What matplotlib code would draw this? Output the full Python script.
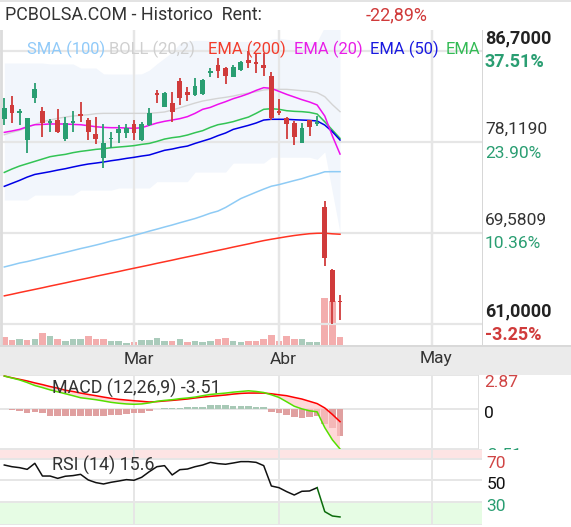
import matplotlib
matplotlib.use('Agg')
import numpy as np
import matplotlib.pyplot as plt
from matplotlib.patches import Rectangle
from matplotlib.transforms import offset_copy

plt.rcParams['font.family'] = ['Roboto', 'DejaVu Sans']

# ---------------------------- data ----------------------------
opens = [80.27, 81.62, 80.88, 78.32, 82.24, 81.05, 79.95, 80.20, 78.38, 79.89,
         80.74, 80.20, 78.88, 76.66, 78.40, 78.95, 78.95, 79.83, 78.32, 79.73,
         82.65, 81.46, 81.83, 83.87, 82.87, 82.56, 82.65, 84.60, 85.38, 85.13,
         84.28, 84.91, 85.85, 85.60, 85.38, 84.35, 81.05, 80.42, 79.95, 78.07,
         80.20, 79.83, 72.01, 66.08, 63.15]
highs = [82.24, 82.46, 81.21, 80.40, 83.66, 81.46, 80.30, 81.21, 80.52, 81.05,
         81.93, 80.36, 80.52, 79.83, 79.10, 79.73, 79.83, 80.20, 80.04, 81.30,
         83.03, 82.87, 82.87, 84.13, 83.28, 84.13, 84.03, 85.07, 86.01, 85.16,
         85.38, 85.76, 86.70, 86.54, 86.48, 84.75, 82.15, 80.52, 80.14, 79.89,
         80.20, 80.58, 72.58, 66.17, 63.72]
lows = [79.73, 79.95, 79.73, 77.06, 81.77, 78.57, 79.10, 78.95, 78.26, 79.10,
        80.04, 78.32, 77.94, 75.65, 77.53, 78.07, 78.48, 78.32, 78.26, 79.64,
        81.83, 81.40, 80.04, 81.62, 82.02, 82.46, 82.56, 84.22, 84.13, 83.56,
        84.22, 84.85, 85.07, 84.60, 84.35, 80.20, 80.67, 78.38, 77.85, 78.01,
        78.70, 79.64, 66.46, 61.00, 61.37]
closes = [81.30, 80.83, 80.95, 80.36, 83.09, 79.95, 80.14, 79.10, 79.95, 80.11,
          80.61, 79.10, 78.38, 78.01, 78.45, 79.36, 79.42, 79.01, 79.83, 80.83,
          82.56, 82.78, 80.99, 82.24, 82.56, 83.40, 83.97, 84.82, 84.85, 84.35,
          85.22, 85.70, 85.54, 85.50, 85.07, 80.36, 80.83, 79.83, 78.63, 79.42,
          79.57, 79.95, 67.21, 63.07, 63.05]
# volume in thousands, 1 = green bar, 0 = red bar
volume_k = [80, 50, 60, 50, 60, 120, 90, 60, 40, 60,
            60, 90, 60, 60, 40, 40, 20, 30, 50, 50,
            73, 43, 43, 60, 33, 43, 33, 43, 60, 73,
            43, 33, 43, 43, 60, 103, 43, 93, 60, 60,
            33, 33, 473, 440, 83]
vol_up = [0, 0, 1, 0, 1, 0, 1, 0, 1, 1,
          1, 0, 0, 0, 1, 1, 1, 0, 1, 1,
          1, 1, 0, 1, 0, 1, 1, 1, 0, 0,
          1, 1, 0, 0, 0, 0, 0, 0, 0, 1,
          1, 1, 0, 0, 0]

sma100 = [66.37, 66.55, 66.74, 66.88, 67.05, 67.23, 67.40, 67.57, 67.74, 67.92,
          68.10, 68.26, 68.43, 68.61, 68.81, 68.97, 69.16, 69.34, 69.53, 69.74,
          69.93, 70.13, 70.32, 70.53, 70.73, 70.93, 71.17, 71.43, 71.63, 71.97,
          72.39, 72.81, 73.11, 73.41, 73.70, 73.97, 74.12, 74.31, 74.50, 74.68,
          74.91, 75.10, 75.33, 75.34, 75.34]
ema200 = [63.65, 63.80, 63.96, 64.11, 64.26, 64.41, 64.57, 64.72, 64.87, 65.03,
          65.18, 65.33, 65.49, 65.64, 65.79, 65.94, 66.10, 66.25, 66.40, 66.55,
          66.71, 66.86, 67.01, 67.17, 67.32, 67.47, 67.62, 67.78, 67.93, 68.08,
          68.24, 68.39, 68.54, 68.70, 68.85, 68.98, 69.10, 69.22, 69.33, 69.42,
          69.50, 69.54, 69.55, 69.49, 69.45]
ema20 = [79.04, 79.17, 79.32, 79.57, 79.76, 79.79, 79.83, 79.83, 79.83, 79.79,
         79.76, 79.67, 79.57, 79.51, 79.48, 79.48, 79.45, 79.42, 79.48, 79.70,
         79.92, 80.08, 80.20, 80.33, 80.52, 80.83, 81.21, 81.39, 81.68, 81.93,
         82.21, 82.43, 82.68, 82.99, 83.25, 83.18, 82.90, 82.62, 82.37, 82.12,
         81.90, 81.62, 80.58, 78.70, 77.00]
ema50 = [73.96, 74.24, 74.52, 74.83, 75.08, 75.21, 75.34, 75.49, 75.62, 75.78,
         75.93, 76.06, 76.15, 76.25, 76.37, 76.47, 76.59, 76.69, 76.81, 76.91,
         77.13, 77.35, 77.47, 77.63, 77.75, 78.00, 78.22, 78.44, 78.73, 78.98,
         79.32, 79.51, 79.70, 79.92, 80.20, 80.27, 80.27, 80.27, 80.23, 80.20,
         80.17, 80.11, 79.73, 79.10, 78.32]
ema_green = [75.27, 75.59, 75.87, 76.09, 76.31, 76.53, 76.75, 76.87, 76.97, 77.13,
             77.25, 77.34, 77.44, 77.50, 77.60, 77.66, 77.72, 77.79, 77.91, 78.00,
             78.19, 78.41, 78.54, 78.63, 78.79, 79.01, 79.20, 79.51, 79.76, 79.89,
             80.05, 80.27, 80.48, 80.83, 81.21, 81.27, 81.21, 81.08, 81.02, 80.99,
             80.92, 80.77, 80.04, 79.26, 78.48]
boll_mid = [78.82, 79.04, 79.23, 79.51, 79.79, 80.05, 80.20, 80.36, 80.48, 80.58,
            80.64, 80.70, 80.80, 80.83, 80.83, 80.83, 80.83, 80.83, 80.83, 80.83,
            80.89, 80.96, 81.14, 81.36, 81.58, 81.80, 81.99, 82.12, 82.24, 82.34,
            82.46, 82.62, 82.74, 82.87, 83.03, 83.09, 83.09, 83.09, 83.03, 82.96,
            82.90, 82.78, 82.40, 81.65, 80.99]
boll_up = [85.57, 85.57, 85.57, 85.57, 85.57, 85.57, 85.48, 85.48, 85.48, 85.48,
           85.10, 85.10, 85.10, 84.55, 84.53, 84.53, 84.53, 84.53, 84.55, 84.90,
           85.50, 86.04, 86.60, 87.40, 87.60, 87.70, 87.70, 87.70, 87.70, 87.70,
           87.60, 87.60, 87.60, 87.60, 87.60, 87.80, 87.90, 87.80, 87.70, 87.60,
           87.60, 87.60, 89.00, 91.00, 93.00]
boll_low = [72.67, 72.67, 72.67, 72.67, 73.14, 73.14, 73.14, 73.14, 73.14, 73.14,
            73.60, 73.60, 73.60, 73.60, 73.60, 73.80, 73.80, 73.80, 73.80, 73.80,
            74.40, 74.40, 74.40, 74.40, 74.40, 75.30, 75.30, 75.30, 75.30, 75.30,
            76.15, 76.15, 76.15, 76.15, 76.15, 76.70, 76.70, 76.70, 76.70, 76.70,
            76.70, 76.50, 77.20, 73.40, 69.60]

macd_line = [2.87, 2.70, 2.53, 2.30, 2.04, 1.86, 1.66, 1.49, 1.32, 1.15,
             0.97, 0.89, 0.80, 0.69, 0.57, 0.49, 0.43, 0.40, 0.43, 0.52,
             0.66, 0.74, 0.80, 0.89, 0.95, 1.03, 1.15, 1.26, 1.32, 1.38,
             1.46, 1.52, 1.58, 1.52, 1.43, 1.23, 1.00, 0.62, 0.23, 0.00,
             -0.17, -0.26, -1.64, -2.71, -3.51]
macd_signal = [2.87, 2.72, 2.58, 2.44, 2.27, 2.12, 1.95, 1.81, 1.63, 1.52,
               1.38, 1.26, 1.15, 1.03, 0.92, 0.83, 0.77, 0.71, 0.66, 0.60,
               0.63, 0.69, 0.74, 0.80, 0.86, 0.95, 1.03, 1.09, 1.15, 1.21,
               1.29, 1.35, 1.38, 1.38, 1.38, 1.32, 1.23, 1.15, 1.00, 0.86,
               0.66, 0.46, 0.08, -0.49, -1.12]
macd_hist = [-0.03, -0.14, -0.20, -0.35, -0.26, -0.35, -0.63, -0.63, -0.63, -0.63,
             -0.63, -0.63, -0.63, -0.63, -0.57, -0.55, -0.49, -0.40, -0.35, -0.20,
             0.02, 0.05, 0.05, 0.08, 0.12, 0.15, 0.20, 0.30, 0.35, 0.30,
             0.25, 0.25, 0.25, 0.20, 0.12, -0.26, -0.34, -0.55, -0.72, -0.83,
             -0.69, -0.63, -1.35, -1.64, -2.36]
rsi = [64.6, 63.0, 62.1, 60.5, 66.2, 54.2, 54.2, 52.0, 54.0, 54.6,
       55.8, 50.5, 48.0, 46.7, 48.3, 49.5, 50.8, 50.2, 53.0, 58.3,
       63.0, 64.0, 55.2, 60.2, 60.8, 63.0, 64.6, 67.1, 65.9, 65.3,
       66.5, 67.8, 67.8, 67.1, 64.0, 44.8, 43.2, 39.5, 36.3, 39.8,
       40.1, 43.2, 20.6, 16.5, 15.6]

month_names = ['Mar', 'Abr', 'May']
month_starts = [17, 36, 56]
price_ticks = [86.70, 78.1190, 69.5809, 61.00]
rent_text = '-22,89%'

# ---------------------------- layout helpers ----------------------------
W, H = 571, 527
fig = plt.figure(figsize=(W / 100, H / 100), dpi=100)
fig.patch.set_facecolor('white')


def px_axes(x0, y0, x1, y1):
    return fig.add_axes([x0 / W, 1 - y1 / H, (x1 - x0) / W, (y1 - y0) / H])


def x_of(px):
    # pixel column -> candle index
    return (px - 4.3) / 7.63


GRID = '#e6e6e6'
UP = '#2a9e72'
DOWN = '#d03b3b'
idx = np.arange(len(closes))

# month band (behind everything)
fig.add_artist(Rectangle((0, 1 - 375 / H), 1, 30 / H, transform=fig.transFigure,
                         color='#ebebeb', lw=0, zorder=-2))
fig.add_artist(Rectangle((0, 1 - 347 / H), 1, 2 / H, transform=fig.transFigure,
                         color='#d9d9d9', lw=0, zorder=-1))
fig.add_artist(Rectangle((0, 1 - 2 / H), 1, 2 / H, transform=fig.transFigure,
                         color='#e3e3e3', lw=0, zorder=-1))

# ---------------------------- price panel ----------------------------
vax = px_axes(0, 30, 483, 345)
ax = px_axes(0, 30, 483, 345)
for a in (vax, ax):
    a.set_xlim(x_of(0), x_of(483))
    a.set_xticks([])
    a.set_yticks([])
    for s in a.spines.values():
        s.set_visible(False)
ax.patch.set_visible(False)
ax.set_ylim(59.023, 88.677)
vax.set_ylim(0, max(volume_k) * 315 / 47.3)

vcols = ['#aacbbb' if u else '#f3adad' for u in vol_up]
vax.bar(idx, volume_k, width=0.86, color=vcols, zorder=2)
for m in month_starts:
    vax.axvline(m, color=GRID, lw=1.6, zorder=1)
    ax.axvline(m, color=GRID, lw=1.6, zorder=1)
for t in price_ticks:
    ax.axhline(t, color=GRID, lw=1.6, zorder=1)
ax.axvline(x_of(0.5), color='#dcdcdc', lw=2, zorder=1)
ax.axvline(x_of(482.5), color='#d6d6d6', lw=1.4, zorder=1)

ax.fill_between(idx, boll_low, boll_up, color='#f2f6fc', lw=0, zorder=0.8)
ax.plot(idx, boll_mid, color='#d4d4d4', lw=1.0, zorder=2)
ax.plot(idx, sma100, color='#8ecbf5', lw=1.1, zorder=2)
ax.plot(idx, ema200, color='#ff3322', lw=1.1, zorder=2)
ax.plot(idx, ema_green, color='#33c455', lw=1.1, zorder=2)
ax.plot(idx, ema50, color='#0000e6', lw=1.1, zorder=2)
ax.plot(idx, ema20, color='#ee10ee', lw=1.1, zorder=2)

for i in idx:
    o, h, l, c = opens[i], highs[i], lows[i], closes[i]
    col = UP if c >= o else DOWN
    ax.vlines(i, l, h, color=col, lw=1.3, zorder=3)
    body = max(abs(c - o), 0.14)
    ax.bar(i, body, bottom=min(o, c), width=0.62, color=col, zorder=3)

# legend text across the top of the panel (last one is cut by the panel edge)
legend = [('SMA (100)', '#90caf9', 27), ('BOLL (20,2)', '#cfcfcf', 109),
          ('EMA (200)', '#f23c2c', 207.6), ('EMA (20)', '#e81ee8', 294),
          ('EMA (50)', '#1a1ae0', 369.6), ('EMA', '#33bb55', 446)]
for txt, col, px in legend:
    ax.text(px / 483, (345 - 49) / 315, txt, color=col, fontsize=11.9,
            transform=ax.transAxes, va='center', ha='left', clip_on=True, zorder=4)

# right price scale
last = closes[-1]
ytr = ax.get_yaxis_transform()
for k, t in enumerate(price_ticks):
    bold = k in (0, len(price_ticks) - 1)
    pct = (t / last - 1) * 100
    ax.text(1.004, t, f'{t:.4f}'.replace('.', ','),
            transform=offset_copy(ytr, fig=fig, y=13, units='dots'),
            ha='left', va='center', fontsize=13.0 if bold else 12.5,
            fontweight='bold' if bold else 'normal',
            color='#222222' if bold else '#333333', clip_on=False)
    ax.text(1.004, t, f'{pct:.2f}%',
            transform=offset_copy(ytr, fig=fig, y=-11, units='dots'),
            ha='left', va='center', fontsize=13.0 if bold else 12.5,
            fontweight='bold' if bold else 'normal',
            color=UP if pct >= 0 else DOWN, clip_on=False)

for name, m in zip(month_names, month_starts):
    ax.text(m + 0.6, -14 / 315, name, transform=ax.get_xaxis_transform(),
            ha='center', va='center', fontsize=12.5, color='#333333',
            clip_on=False, zorder=5)

# title
fig.text(5 / W, 1 - 15 / H, 'PCBOLSA.COM - Historico  Rent:', fontsize=12.9,
         color='#333333', va='center', ha='left')
fig.text(366 / W, 1 - 15 / H, rent_text, fontsize=12.9, color='#d03a3a',
         va='center', ha='left')

# ---------------------------- MACD panel ----------------------------
mx = px_axes(0, 375, 479, 449)
mx.set_xlim(x_of(0), x_of(479))
mx.set_ylim(-3.51, 2.96)
mx.set_xticks([])
mx.set_yticks([])
for s in mx.spines.values():
    s.set_visible(False)
mx.patch.set_visible(False)
for m in month_starts:
    mx.axvline(m, color=GRID, lw=1.4, zorder=1)
for yv in (2.96, 0, -3.51):
    mx.axhline(yv, color=GRID, lw=1.4, zorder=1)
mx.axvline(x_of(478.5), color='#dedede', lw=1.4, zorder=1)

hcols = ['#a8c9b6' if v > 0 else '#e0a0a0' for v in macd_hist]
mx.bar(idx, macd_hist, width=0.86, color=hcols, zorder=2)
ml = np.array(macd_line)
sg = np.array(macd_signal)
mx.fill_between(idx, ml, sg, where=sg >= ml, interpolate=True,
                color='#ffc4c4', alpha=0.65, lw=0, zorder=2.5)
mx.fill_between(idx, ml, sg, where=sg < ml, interpolate=True,
                color='#ddf5c8', alpha=0.8, lw=0, zorder=2.5)
mx.plot(idx, sg, color='#ff0000', lw=1.1, zorder=3)
mx.plot(idx, ml, color='#55e000', lw=1.1, zorder=3.1)
mx.text(51.5 / 479, 0.82, f'MACD (12,26,9) {macd_line[-1]:.2f}', transform=mx.transAxes,
        fontsize=12.9, color='#333333', va='center', ha='left', zorder=5)

mtr = mx.get_yaxis_transform()
for val, col, dy in ((max(macd_line), '#d04545', -6), (0, '#111111', -5),
                     (min(macd_line), UP, -7)):
    lab = '0' if val == 0 else f'{val:.2f}'
    mx.text(484 / 479, val, lab, transform=offset_copy(mtr, fig=fig, y=dy, units='dots'),
            ha='left', va='center', fontsize=12.5, color=col, clip_on=False, zorder=3)

# white cover so the lowest MACD label is cut like the original
fig.add_artist(Rectangle((483 / W, 0), 1, 1 - 450 / H, transform=fig.transFigure,
                         color='white', lw=0, zorder=3.5))

# ---------------------------- RSI panel ----------------------------
rx = px_axes(0, 449, 482, 525)
rx.set_xlim(x_of(0), x_of(482))
rx.set_ylim(8.0, 79.7)
rx.set_xticks([])
rx.set_yticks([])
for s in rx.spines.values():
    s.set_visible(False)
rx.set_zorder(4)
rx.axhspan(70, 79.7, color='#fde4e4', lw=0, zorder=0.5)
rx.axhspan(8.0, 30, color='#e6fce4', lw=0, zorder=0.5)
for m in month_starts:
    rx.axvline(m, color=GRID, lw=1.4, zorder=1)
for yv in (79.6, 70, 50, 30, 8.2):
    rx.axhline(yv, color=GRID, lw=1.4, zorder=1)
rx.plot(idx[:42], rsi[:42], color='#111111', lw=1.1, zorder=3)
rx.plot(idx[41:], rsi[41:], color='#0b6b0b', lw=1.1, zorder=3)
rx.text(51.5 / 482, 0.79, f'RSI (14) {rsi[-1]:.1f}', transform=rx.transAxes,
        fontsize=12.9, color='#333333', va='center', ha='left', zorder=5)
rtr = rx.get_yaxis_transform()
for val, col in ((70, '#d04545'), (50, '#111111'), (30, UP)):
    rx.text(486.7 / 482, val, str(val), transform=offset_copy(rtr, fig=fig, y=-4.4, units='dots'),
            ha='left', va='center', fontsize=12.5, color=col, clip_on=False)

fig.savefig('out.png', dpi=100)
